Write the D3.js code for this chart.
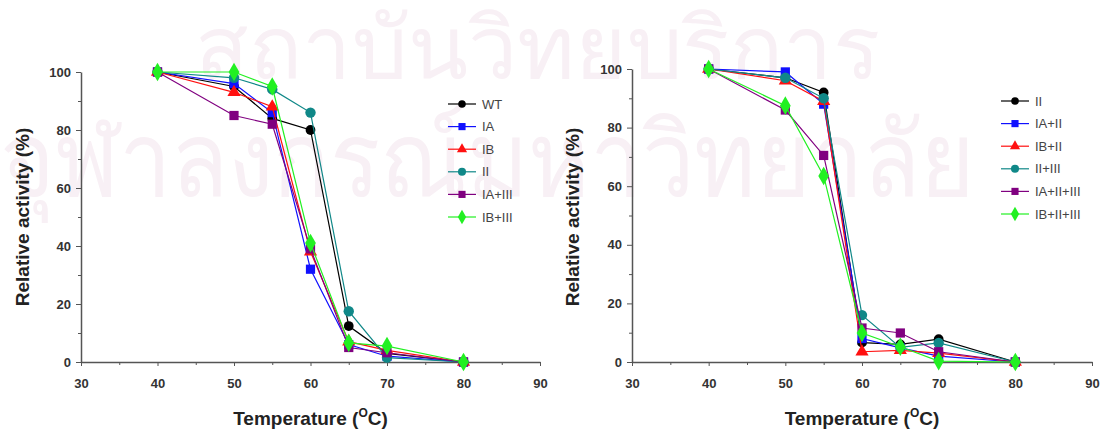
<!DOCTYPE html>
<html>
<head>
<meta charset="utf-8">
<script src="https://cdn.jsdelivr.net/npm/d3@7"></script>
<style>
  body { margin: 0; background: #fff; }
  svg { display: block; }
  .tick text { font-family: "Liberation Sans", Arial, sans-serif; font-weight: bold; font-size: 13px; fill: #333; }
  .axis path, .axis line { stroke: #555; }
</style>
</head>
<body>
<svg id="chart" width="1102" height="429"></svg>
<script>
var W = 1102, H = 429;

// temperatures (°C)
var temps = [40, 50, 55, 60, 65, 70, 80];

// left panel series
var leftNames = ["WT", "IA", "IB", "II", "IA+III", "IB+III"];
var left_WT    = [100, 95, 84, 80, 12.4, 3, 0];
var left_IA    = [100, 96, 86, 32, 6, 2, 0];
var left_IB    = [100, 93, 88, 38, 7, 4, 0];
var left_II    = [100, 98, 94, 86, 17.5, 1.5, 0];
var left_IAIII = [100, 85, 82, 39, 5, 3.2, 0];
var left_IBIII = [100, 100, 95, 41, 6.6, 5.5, 0];

// right panel series
var rightNames = ["II", "IA+II", "IB+II", "II+III", "IA+II+III", "IB+II+III"];
var right_II     = [100, 97, 92, 6.6, 6, 7.8, 0];
var right_IAII   = [100, 99, 88, 8, 4.8, 2, 0];
var right_IBII   = [100, 96, 89, 3.5, 4, 3, 0];
var right_IIIII  = [100, 97, 90, 16, 5, 6.5, 0];
var right_IAIIIII = [100, 86, 70.5, 11.6, 9.9, 3.5, 0];
var right_IBIIIII = [100, 87.5, 63.5, 9.9, 5.2, 0.3, 0];

var xTicks = [30, 40, 50, 60, 70, 80, 90];
var yTicks = [0, 20, 40, 60, 80, 100];

// marker styles per series slot
var colors = ["#000000", "#1010ff", "#ff1010", "#108888", "#800080", "#22f022"];
var shapes = [d3.symbolCircle, d3.symbolSquare, d3.symbolTriangle, d3.symbolCircle, d3.symbolSquare, d3.symbolDiamond];
var sizes  = [75, 85, 75, 85, 85, 100];

var svg = d3.select("#chart");

// faint watermark
var wm = svg.append("g").attr("fill", "#f8f0f5")
  .style("font-family", "'Noto Sans', 'DejaVu Sans', sans-serif");
wm.append("text").attr("transform", "translate(195,78) scale(1,1.1)")
  .attr("font-size", 78).attr("textLength", 685).attr("lengthAdjust", "spacingAndGlyphs")
  .text("สถาบันวิทยบริการ");
wm.append("text").attr("transform", "translate(0,196) scale(1,1.15)")
  .attr("font-size", 90).attr("textLength", 975).attr("lengthAdjust", "spacingAndGlyphs")
  .text("จุฬาลงกรณ์มหาวิทยาลัย");

function panel(cfg) {
  var x = d3.scaleLinear().domain([30, 90]).range([cfg.x0, cfg.x1]);
  var y = d3.scaleLinear().domain([0, 100]).range([362, cfg.yTop]);
  var g = svg.append("g");

  // minor ticks
  g.append("g").attr("class", "axis").attr("transform", "translate(0,362)")
    .call(d3.axisBottom(x).tickValues([35, 45, 55, 65, 75, 85]).tickSize(3).tickFormat(""))
    .call(function(s) { s.select(".domain").remove(); });
  g.append("g").attr("class", "axis").attr("transform", "translate(" + cfg.x0 + ",0)")
    .call(d3.axisLeft(y).tickValues([10, 30, 50, 70, 90]).tickSize(3).tickFormat(""))
    .call(function(s) { s.select(".domain").remove(); });

  g.append("g").attr("class", "axis").attr("transform", "translate(0,362)")
    .call(d3.axisBottom(x).tickValues(xTicks).tickSize(4).tickSizeOuter(0).tickPadding(13))
    .call(function(s) { s.select(".domain").attr("stroke-width", 1.5); });
  g.append("g").attr("class", "axis").attr("transform", "translate(" + cfg.x0 + ",0)")
    .call(d3.axisLeft(y).tickValues(yTicks).tickSize(5).tickSizeOuter(0).tickPadding(5))
    .call(function(s) { s.select(".domain").attr("stroke-width", 1.5); });

  // axis titles
  g.append("text")
    .attr("transform", "translate(" + cfg.yTitleX + ",217) rotate(-90)")
    .attr("text-anchor", "middle")
    .style("font-family", "'Liberation Sans', Arial, sans-serif")
    .style("font-weight", "bold").style("font-size", "19px").attr("fill", "#222")
    .text("Relative activity (%)");
  var xt = g.append("text")
    .attr("x", (cfg.x0 + cfg.x1) / 2).attr("y", 425)
    .attr("text-anchor", "middle")
    .style("font-family", "'Liberation Sans', Arial, sans-serif")
    .style("font-weight", "bold").style("font-size", "19px").attr("fill", "#222");
  xt.append("tspan").text("Temperature (");
  xt.append("tspan").attr("dy", -8).style("font-size", "12px").text("O");
  xt.append("tspan").attr("dy", 8).text("C)");

  var line = d3.line().x(function(d) { return x(d[0]); }).y(function(d) { return y(d[1]); });

  cfg.series.forEach(function(vals, i) {
    var pts = temps.map(function(t, j) { return [t, vals[j]]; });
    g.append("path").datum(pts).attr("d", line)
      .attr("fill", "none").attr("stroke", colors[i]).attr("stroke-width", 1.2);
    g.selectAll(null).data(pts).enter().append("path")
      .attr("transform", function(d) { return "translate(" + x(d[0]) + "," + y(d[1]) + ")"; })
      .attr("d", d3.symbol().type(shapes[i]).size(sizes[i]))
      .attr("fill", colors[i]);
  });

  // legend
  var lg = g.append("g");
  cfg.names.forEach(function(n, i) {
    var ly = cfg.legY + i * 22.6;
    lg.append("line").attr("x1", cfg.legX).attr("x2", cfg.legX + 28)
      .attr("y1", ly).attr("y2", ly).attr("stroke", colors[i]).attr("stroke-width", 1.2);
    lg.append("path").attr("transform", "translate(" + (cfg.legX + 14) + "," + ly + ")")
      .attr("d", d3.symbol().type(shapes[i]).size(sizes[i] * 0.6)).attr("fill", colors[i]);
    lg.append("text").attr("x", cfg.legX + 34).attr("y", ly + 4.5)
      .style("font-family", "'Liberation Sans', Arial, sans-serif")
      .style("font-size", "13px").attr("fill", "#444").text(n);
  });
}

panel({
  x0: 81, x1: 540, yTop: 72, yTitleX: 29,
  series: [left_WT, left_IA, left_IB, left_II, left_IAIII, left_IBIII],
  names: leftNames, legX: 448, legY: 104
});
panel({
  x0: 632, x1: 1092, yTop: 69, yTitleX: 579,
  series: [right_II, right_IAII, right_IBII, right_IIIII, right_IAIIIII, right_IBIIIII],
  names: rightNames, legX: 1001, legY: 101
});
</script>
</body>
</html>
